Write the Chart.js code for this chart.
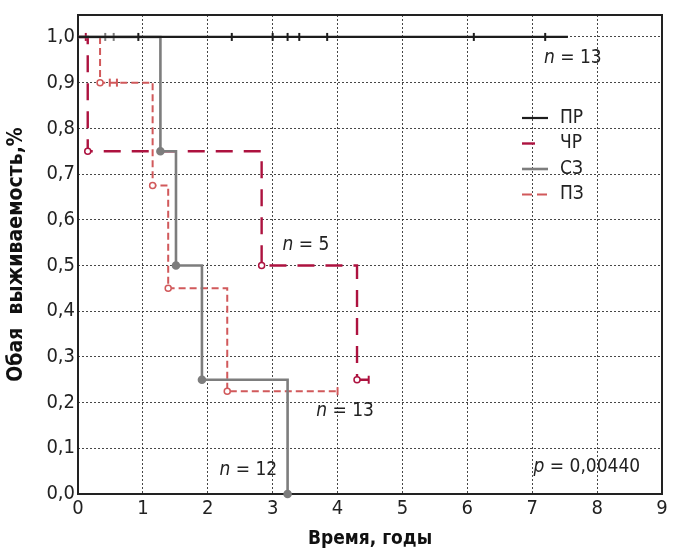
<!DOCTYPE html>
<html><head><meta charset="utf-8">
<script src="https://cdn.jsdelivr.net/npm/chart.js@4"></script>
<style>html,body{margin:0;padding:0;background:#fff}</style>
</head><body>
<canvas id="c" width="680" height="550"></canvas>
<script>
const FONT = "'Liberation Sans Narrow','DejaVu Sans Condensed',sans-serif";

// Kaplan-Meier curves: event times (years) and survival values
const prTimes = [0, 7.55];
const prSurv  = [1, 1];
const prCensor = [0.93, 2.37, 3.0, 3.23, 3.41, 3.84, 6.1, 7.2];

const chrTimes = [0, 0.15, 2.83, 4.3, 4.48];
const chrSurv  = [1, 0.75, 0.5, 0.25, 0.25];
const chrCensorT = [0.12, 4.48];
const chrCensorS = [1, 0.25];

const szTimes = [0, 1.27, 1.51, 1.91, 3.23];
const szSurv  = [1, 0.75, 0.5, 0.25, 0];
const szCensor = [0.42, 0.55];

const pzTimes = [0, 0.34, 1.15, 1.39, 2.3, 4.0];
const pzSurv  = [1, 0.9, 0.675, 0.45, 0.225, 0.225];
const pzCensorT = [0.49, 0.6, 4.0];
const pzCensorS = [0.9, 0.9, 0.225];

const xTicks = [0,1,2,3,4,5,6,7,8,9];
const yTicks = [0,0.1,0.2,0.3,0.4,0.5,0.6,0.7,0.8,0.9,1.0];

const legendLabels = ['ПР','ЧР','СЗ','ПЗ'];
const annotations = [
  {x: 7.18, y: 0.953, pre: 'n', post: ' = 13'},
  {x: 3.15, y: 0.545, pre: 'n', post: ' = 5'},
  {x: 3.67, y: 0.182, pre: 'n', post: ' = 13'},
  {x: 2.18, y: 0.053, pre: 'n', post: ' = 12'},
  {x: 7.02, y: 0.059, pre: 'p', post: ' = 0,00440'}
];

const C_PR = '#1c1c1c', C_CHR = '#ad123f', C_SZ = '#7d7d7d', C_PZ = '#d1595b';

function pts(t, s){ return t.map((v,i)=>({x:v, y:s[i]})); }
function radii(n, last){ return Array.from({length:n},(_,i)=> i===0 ? 0 : (last===false && i===n-1 ? 0 : 3)); }

const datasets = [
  {label:'ПР', data: pts(prTimes, prSurv), stepped:'before', borderColor:C_PR, borderWidth:2.2,
   pointRadius:0, clip:false},
  {label:'_c1', type:'scatter', data: prCensor.map(x=>({x, y:1})), pointStyle:'line', rotation:90, pointRadius:4,
   borderColor:C_PR, pointBorderWidth:2, clip:false},
  {label:'СЗ', data: pts(szTimes, szSurv), stepped:'before', borderColor:C_SZ, borderWidth:2.6,
   pointRadius: radii(szTimes.length, true), pointBackgroundColor:C_SZ, pointBorderColor:C_SZ, clip:false},
  {label:'_c2', type:'scatter', data: szCensor.map(x=>({x, y:1})), pointStyle:'line', rotation:90, pointRadius:4,
   borderColor:C_SZ, pointBorderWidth:2, clip:false},
  {label:'ПЗ', data: pts(pzTimes, pzSurv), stepped:'before', borderColor:C_PZ, borderWidth:2, borderDash:[7,4],
   pointRadius: radii(pzTimes.length, false), pointBackgroundColor:'#fff', pointBorderColor:C_PZ, pointBorderWidth:1.5, clip:false},
  {label:'_c3', type:'scatter', data: pts(pzCensorT, pzCensorS), pointStyle:'line', rotation:90, pointRadius:4,
   borderColor:C_PZ, pointBorderWidth:2, clip:false},
  {label:'ЧР', data: pts(chrTimes, chrSurv), stepped:'before', borderColor:C_CHR, borderWidth:2.4, borderDash:[17,11],
   pointRadius: radii(chrTimes.length, false), pointBackgroundColor:'#fff', pointBorderColor:C_CHR, pointBorderWidth:1.5, clip:false},
  {label:'_c4', type:'scatter', data: pts(chrCensorT, chrCensorS), pointStyle:'line', rotation:90, pointRadius:4,
   borderColor:C_CHR, pointBorderWidth:2, clip:false}
];

const frame = {
  id:'frame',
  beforeDatasetsDraw(chart){
    const {ctx, chartArea:a} = chart;
    ctx.save(); ctx.strokeStyle = '#222'; ctx.lineWidth = 2;
    ctx.strokeRect(a.left, a.top, a.right - a.left, a.bottom - a.top);
    ctx.restore();
  },
  afterDraw(chart){
    const {ctx, chartArea:a, scales} = chart;
    ctx.save();
    ctx.fillStyle = '#222'; ctx.textBaseline = 'middle';
    annotations.forEach(an=>{
      let px = scales.x.getPixelForValue(an.x), py = scales.y.getPixelForValue(an.y);
      ctx.font = 'italic 19px ' + FONT; ctx.fillText(an.pre, px, py);
      px += ctx.measureText(an.pre).width;
      ctx.font = '19px ' + FONT; ctx.fillText(an.post, px, py);
    });
    const lx = a.left + 444, ly0 = a.top + 103, dy = 25.5;
    legendLabels.forEach((lab,i)=>{
      const ds = chart.data.datasets.find(d=>d.label===lab);
      const y = ly0 + i*dy;
      ctx.strokeStyle = ds.borderColor; ctx.lineWidth = ds.borderWidth;
      if (lab==='ЧР') ctx.setLineDash([13,30]);
      else if (lab==='ПЗ') ctx.setLineDash([10,5]);
      else ctx.setLineDash([]);
      ctx.beginPath(); ctx.moveTo(lx, y); ctx.lineTo(lx+26, y); ctx.stroke();
      ctx.setLineDash([]);
      ctx.fillStyle = '#222'; ctx.font = '19px ' + FONT; ctx.textBaseline='middle';
      ctx.fillText(lab, lx + 38, y);
    });
    ctx.restore();
  }
};

new Chart(document.getElementById('c'), {
  type:'line',
  data:{datasets},
  options:{
    responsive:false, animation:false,
    layout:{padding:{top:15, right:18, left:0, bottom:0}},
    plugins:{legend:{display:false}, tooltip:{enabled:false}},
    scales:{
      x:{type:'linear', min:0, max:9,
        afterBuildTicks: s=>{ s.ticks = xTicks.map(v=>({value:v})); },
        afterFit: s=>{ s.height = 56; },
        ticks:{font:{family:FONT, size:20}, color:'#222', padding:3, callback:v=>String(v)},
        grid:{color:'#333', lineWidth:0.9, drawTicks:false},
        border:{display:false, dash:[2,2]},
        title:{display:true, text:'Время, годы', font:{family:FONT, size:19, weight:'bold'}, color:'#111', padding:{top:2,bottom:0}}
      },
      y:{type:'linear', min:0, max:1.048,
        afterBuildTicks: s=>{ s.ticks = yTicks.map(v=>({value:v})); },
        afterFit: s=>{ s.width = 78; },
        ticks:{font:{family:FONT, size:20}, color:'#222', padding:3, callback:v=>v.toFixed(1).replace('.', ',')},
        grid:{color:'#333', lineWidth:0.9, drawTicks:false},
        border:{display:false, dash:[2,2]},
        title:{display:true, text:'Обая  выживаемость,%', font:{family:FONT, size:21, weight:'bold'}, color:'#111', padding:{top:4,bottom:0}}
      }
    }
  },
  plugins:[frame]
});
</script>
</body></html>
